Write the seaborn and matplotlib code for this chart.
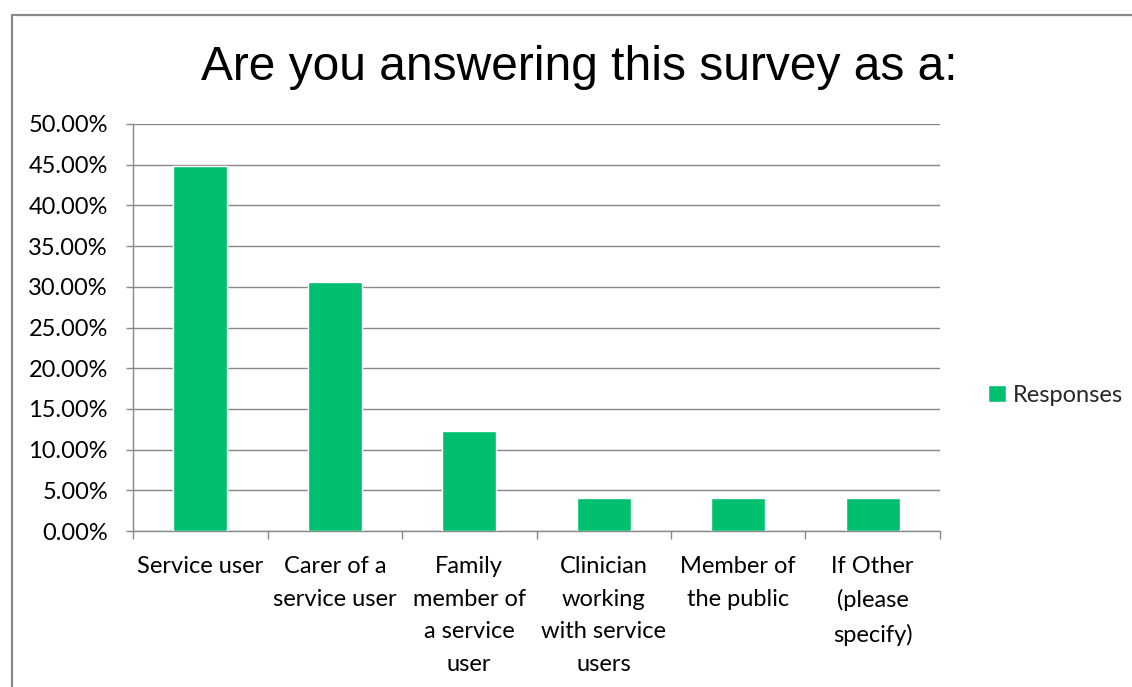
import matplotlib
matplotlib.use("Agg")
import matplotlib.pyplot as plt
import seaborn as sns
import pandas as pd
from matplotlib.lines import Line2D
from matplotlib.ticker import FixedLocator, FuncFormatter

# Survey answers: share of respondents (percent) per respondent type
categories = [
    "Service user",
    "Carer of a\nservice user",
    "Family\nmember of\na service\nuser",
    "Clinician\nworking\nwith service\nusers",
    "Member of\nthe public",
    "If Other\n(please\nspecify)",
]
responses = [44.90, 30.61, 12.24, 4.08, 4.08, 4.08]
series_name = "Responses"
y_ticks = [0, 5, 10, 15, 20, 25, 30, 35, 40, 45, 50]
title = "Are you answering this survey as a:"

BAR = "#00BF6F"
GRID = "#898989"
TEXT = "#000000"

sns.set_theme(style="white")
plt.rcParams["font.family"] = ["Lato", "DejaVu Sans"]

fig = plt.figure(figsize=(11.32, 6.87), dpi=100)
fig.patch.set_facecolor("white")
ax = fig.add_axes([133 / 1132, 1 - 531 / 687, (940 - 133) / 1132, (531 - 124) / 687])

df = pd.DataFrame({"category": categories, "value": responses,
                   "series": [series_name] * len(categories)})
sns.barplot(data=df, x="category", y="value", hue="series",
            palette=[BAR], width=0.4, saturation=1, ax=ax, zorder=3)

# axis ranges and gridlines
ax.set_xlim(-0.5, len(categories) - 0.5)
ax.set_ylim(0, 50)
ax.yaxis.set_major_locator(FixedLocator(y_ticks))
ax.yaxis.set_major_formatter(FuncFormatter(lambda v, p: f"{v:.2f}%"))
ax.grid(axis="y", color=GRID, linewidth=1.0, zorder=0)
ax.set_axisbelow(True)
ax.set_xlabel("")
ax.set_ylabel("")

for side in ("top", "right"):
    ax.spines[side].set_visible(False)
for side in ("left", "bottom"):
    ax.spines[side].set_color(GRID)
    ax.spines[side].set_linewidth(1.0)

# category separators as small ticks below the axis
ax.xaxis.set_minor_locator(FixedLocator([i - 0.5 for i in range(len(categories) + 1)]))
ax.tick_params(axis="x", which="minor", length=6, width=1.0, color=GRID, direction="out", bottom=True)
ax.tick_params(axis="x", which="major", length=0, pad=18, labelsize=17, labelcolor=TEXT)
ax.tick_params(axis="y", which="major", length=5, width=1.0, color=GRID, direction="out",
               left=True, pad=13, labelsize=17, labelcolor=TEXT)
for lbl in ax.get_xticklabels():
    lbl.set_linespacing(1.68)
    lbl.set_verticalalignment("top")

# legend on the right
handles, labels = ax.get_legend_handles_labels()
ax.legend(handles, labels, loc="center left", bbox_to_anchor=(979 / 1132, 1 - 395 / 687),
          bbox_transform=fig.transFigure, frameon=False, fontsize=17,
          handlelength=0.75, handleheight=0.75, handletextpad=0.3, borderaxespad=0)

fig.text(579 / 1132, 1 - 80 / 687, title, ha="center", va="baseline",
         fontsize=34.5, family=["Liberation Sans", "DejaVu Sans"], color=TEXT)

# chart frame
fig.add_artist(Line2D([11.5 / 1132, 11.5 / 1132], [0, 1 - 15 / 687],
                      transform=fig.transFigure, color=GRID, linewidth=1.6))
fig.add_artist(Line2D([11.5 / 1132, 1], [1 - 15 / 687, 1 - 15 / 687],
                      transform=fig.transFigure, color=GRID, linewidth=1.6))

fig.savefig("out.png", dpi=100, facecolor="white")
